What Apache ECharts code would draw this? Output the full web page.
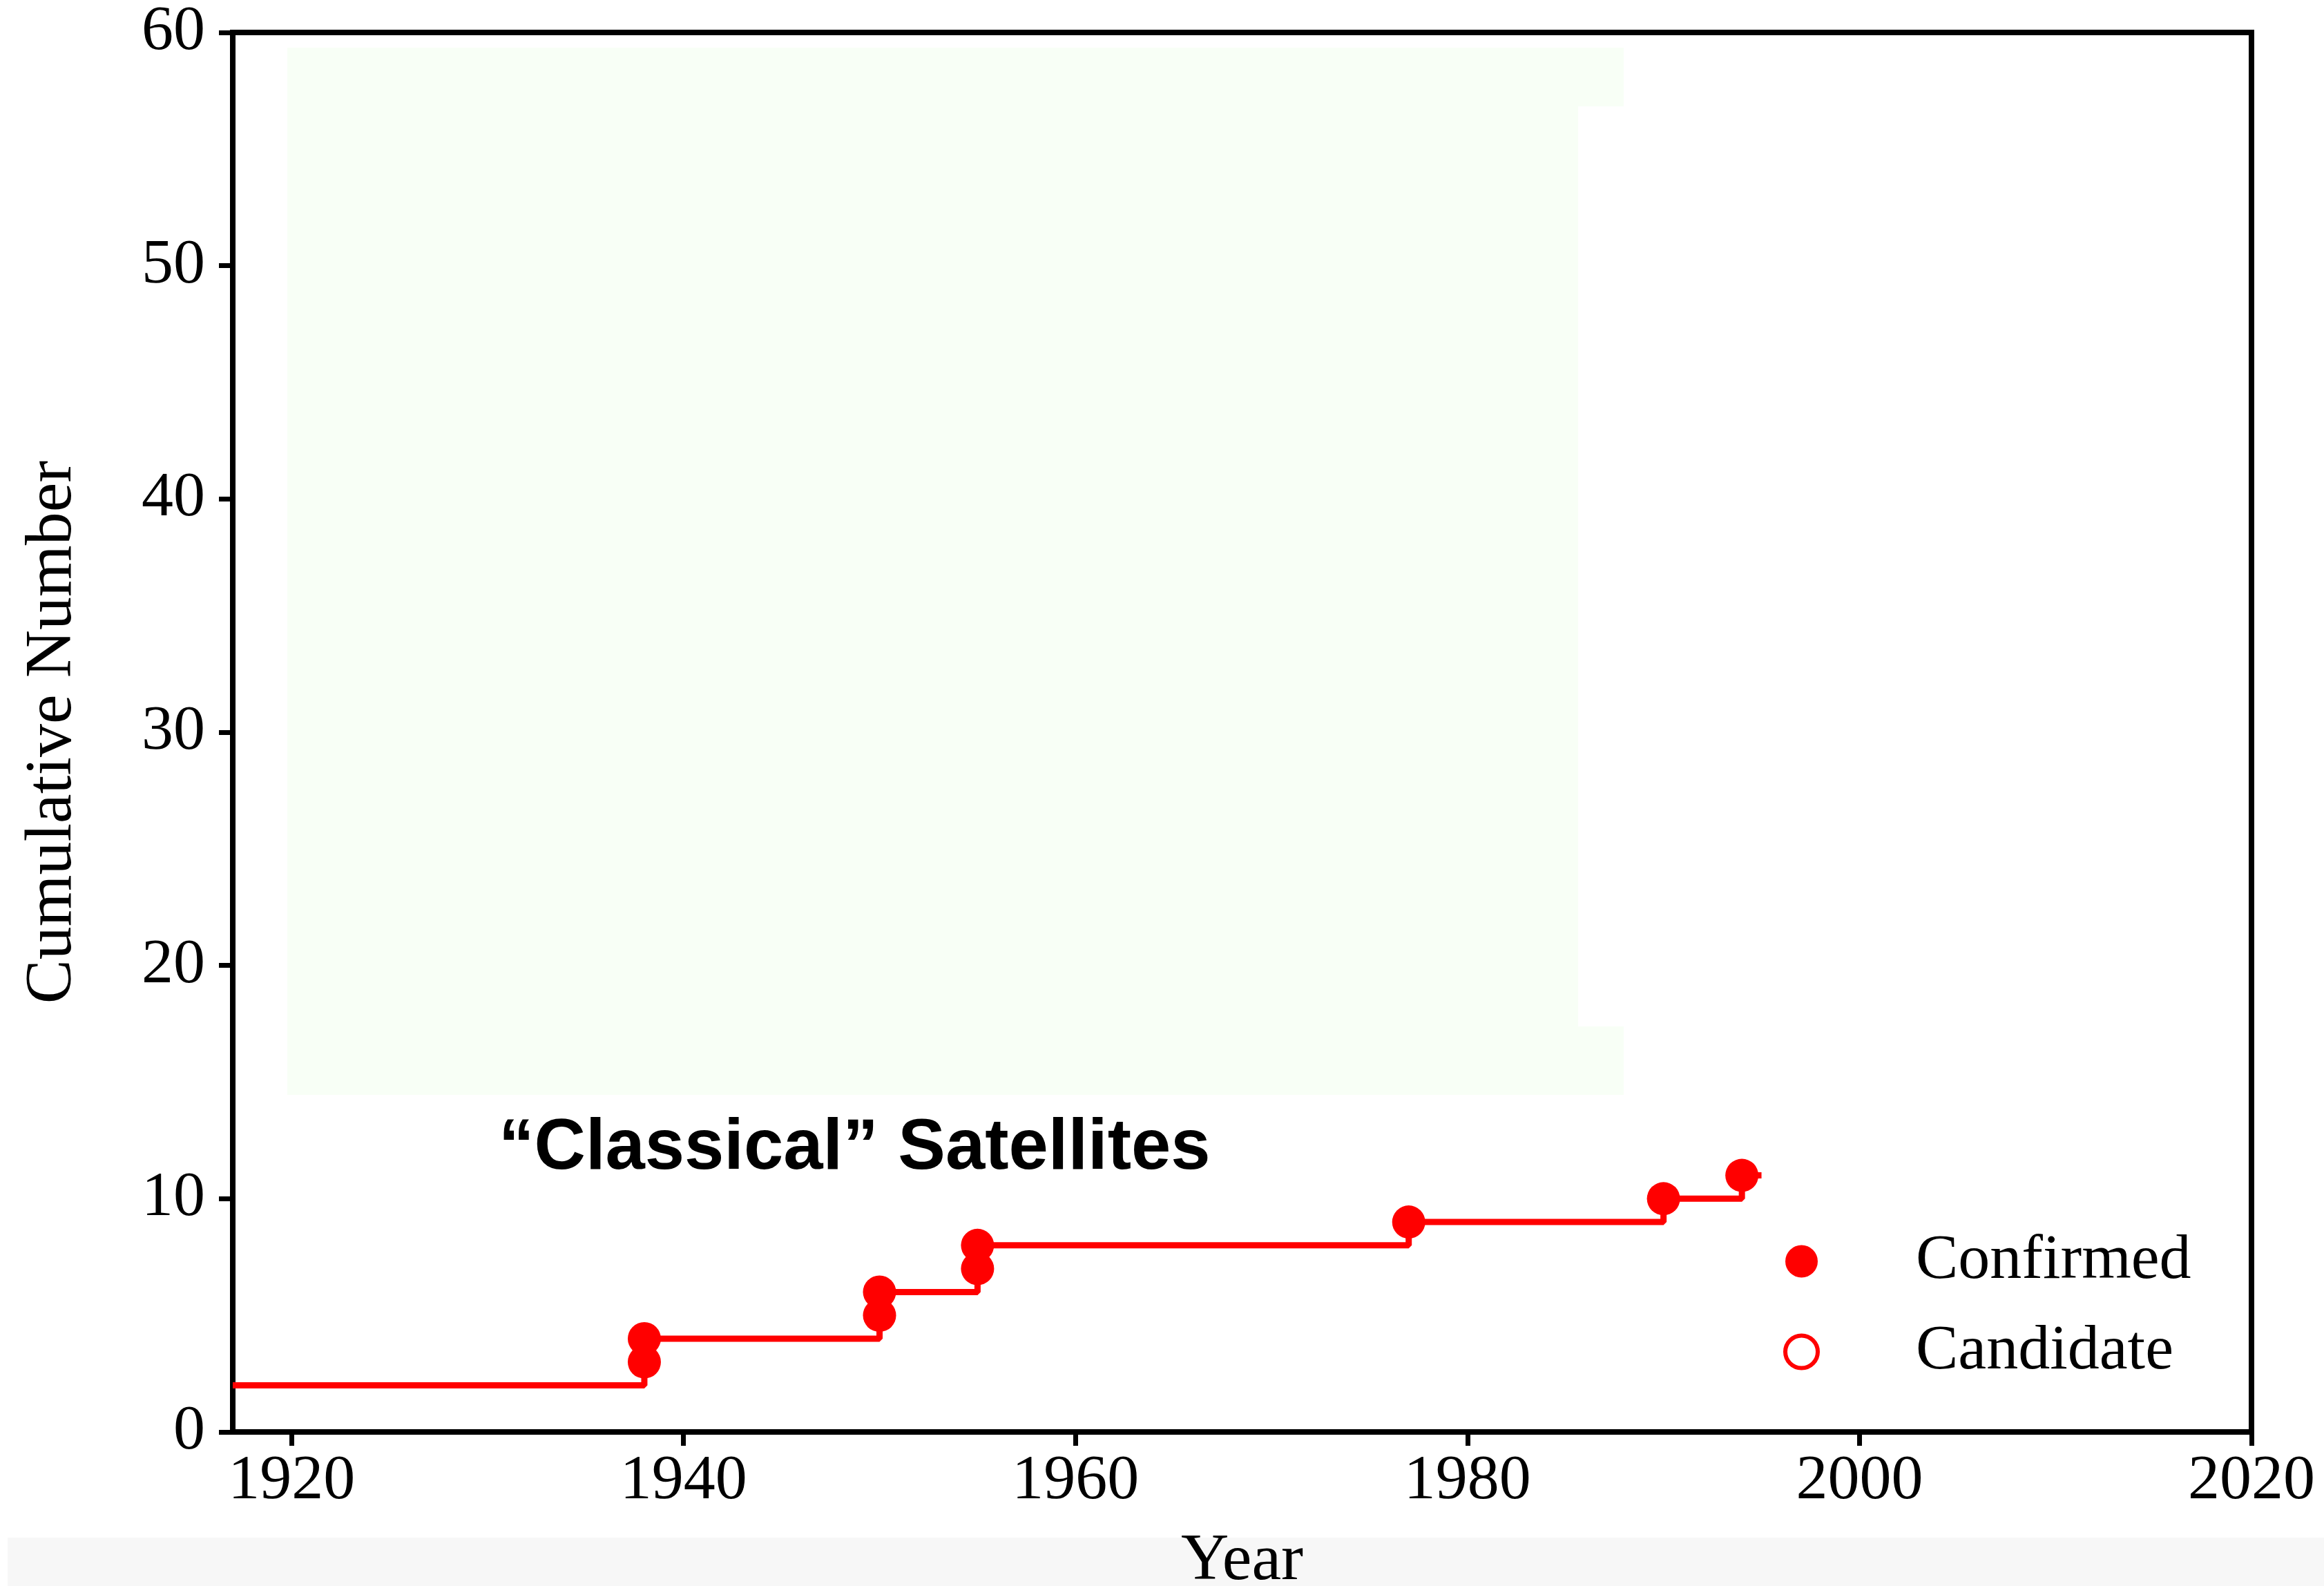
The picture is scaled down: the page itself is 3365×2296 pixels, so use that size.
<!DOCTYPE html>
<html>
<head>
<meta charset="utf-8">
<script src="https://cdn.jsdelivr.net/npm/echarts@6/dist/echarts.min.js"></script>
<style>
  html, body { margin: 0; padding: 0; background: #ffffff; }
  #chart { width: 3365px; height: 2296px; }
</style>
</head>
<body>
<div id="chart"></div>
<script>
// Discovery years of the confirmed "classical" satellites and the running total after each one
const discoveryYears = [1938, 1938, 1950, 1950, 1955, 1955, 1977, 1990, 1994];
const confirmedCounts = [3, 4, 5, 6, 7, 8, 9, 10, 11];
// No candidates in this group
const candidateYears = [];
const candidateCounts = [];
// Count known before the plotted range, and where the running total stops
const startYear = 1917;
const startCount = 2;
const endYear = 1995;
// Tick labels
const yearTicks = [1920, 1940, 1960, 1980, 2000, 2020];
const countTicks = [0, 10, 20, 30, 40, 50, 60];

// Build the cumulative step curve from the discoveries
const stepPoints = [[startYear, startCount]];
discoveryYears.forEach((yr, i) => {
  const last = stepPoints[stepPoints.length - 1];
  if (last[0] === yr) last[1] = confirmedCounts[i];
  else stepPoints.push([yr, confirmedCounts[i]]);
});
stepPoints.push([endYear, stepPoints[stepPoints.length - 1][1]]);

const confirmedPoints = discoveryYears.map((yr, i) => [yr, confirmedCounts[i]]);
const candidatePoints = candidateYears.map((yr, i) => [yr, candidateCounts[i]]);

const SERIF = 'Liberation Serif';
const RED = '#ff0000';
const tickFont = { fontFamily: SERIF, fontSize: 92, color: '#000000' };
const nameFont = { fontFamily: SERIF, fontSize: 96, color: '#000000' };

const chart = echarts.init(document.getElementById('chart'), null, { renderer: 'canvas' });
chart.setOption({
  backgroundColor: '#ffffff',
  animation: false,
  grid: {
    left: 337, right: 105, top: 47, bottom: 223,
    containLabel: false, outerBoundsMode: 'none',
    show: true, borderColor: '#000000', borderWidth: 8, backgroundColor: 'transparent'
  },
  graphic: [
    {
      type: 'polygon', z: -1, silent: true,
      shape: { points: [[416, 69], [2351, 69], [2351, 154], [2285, 154], [2285, 1486], [2351, 1486], [2351, 1585], [416, 1585]] },
      style: { fill: '#f8fff6' }
    },
    {
      type: 'rect', z: -1, silent: true,
      shape: { x: 11, y: 2226, width: 3354, height: 70 },
      style: { fill: '#f7f7f7' }
    },
    {
      type: 'text', z: 10, silent: true,
      x: 722, y: 1664,
      style: {
        text: '\u201CClassical\u201D Satellites',
        font: 'bold 103px "Liberation Sans", Arial, sans-serif',
        fill: '#000000', align: 'left', verticalAlign: 'middle'
      }
    }
  ],
  legend: {
    data: [
      { name: 'Confirmed', icon: 'circle', itemStyle: { color: RED, borderWidth: 0 } },
      { name: 'Candidate', icon: 'circle', itemStyle: { color: '#ffffff', borderColor: RED, borderWidth: 6 } }
    ],
    orient: 'vertical',
    left: 2577, top: 1775,
    itemWidth: 47, itemHeight: 47, itemGap: 39,
    selectedMode: false,
    textStyle: Object.assign({}, tickFont, { padding: [0, 0, 0, 137] })
  },
  xAxis: {
    type: 'value', min: startYear, max: 2020,
    name: 'Year', nameLocation: 'middle', nameGap: 140,
    nameTextStyle: nameFont,
    axisLine: { lineStyle: { color: '#000000', width: 8 } },
    axisTick: { customValues: yearTicks, length: 20, lineStyle: { color: '#000000', width: 7 } },
    axisLabel: Object.assign({ customValues: yearTicks, margin: 26, formatter: v => String(v) }, tickFont),
    splitLine: { show: false }
  },
  yAxis: {
    type: 'value', min: countTicks[0], max: countTicks[countTicks.length - 1], interval: 10,
    name: 'Cumulative Number', nameLocation: 'middle', nameGap: 212, nameRotate: 90,
    nameTextStyle: nameFont,
    axisLine: { lineStyle: { color: '#000000', width: 8 } },
    axisTick: { length: 20, lineStyle: { color: '#000000', width: 7 } },
    axisLabel: Object.assign({ margin: 40, formatter: v => String(v) }, tickFont),
    splitLine: { show: false }
  },
  series: [
    {
      type: 'line', name: 'cumulative', data: stepPoints, step: 'end',
      showSymbol: false, silent: true, z: 2,
      lineStyle: { color: RED, width: 9 }
    },
    {
      type: 'scatter', name: 'Confirmed', data: confirmedPoints, z: 3,
      symbol: 'circle', symbolSize: 48,
      itemStyle: { color: RED, opacity: 1 }
    },
    {
      type: 'scatter', name: 'Candidate', data: candidatePoints, z: 3,
      symbol: 'circle', symbolSize: 48,
      itemStyle: { color: '#ffffff', borderColor: RED, borderWidth: 6, opacity: 1 }
    }
  ]
});
</script>
</body>
</html>
